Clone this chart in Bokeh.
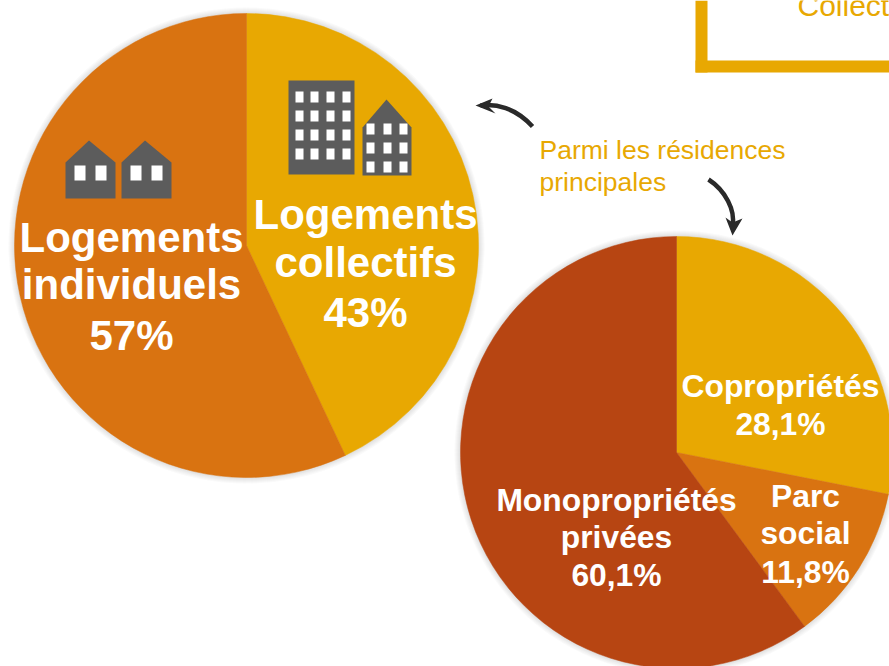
from math import pi
from bokeh.plotting import figure
from bokeh.models import Range1d
from bokeh.core.properties import value
from bokeh.embed import file_html
from bokeh.resources import INLINE

# data
main_labels = ["Logements collectifs", "Logements individuels"]
main_values = [43, 57]
main_colors = ["#E8A802", "#D97311"]
sub_labels = ["Copropriétés", "Parc social", "Monopropriétés privées"]
sub_values = [28.1, 11.8, 60.1]
sub_colors = ["#E8A802", "#D97311", "#B74512"]

W, H = 889, 666
p = figure(width=W, height=H, x_range=Range1d(0, W), y_range=Range1d(0, H),
           output_backend="svg", toolbar_location=None, min_border=0,
           outline_line_color=None, background_fill_color="white", border_fill_color="white")
p.axis.visible = False
p.grid.visible = False


def Y(y):
    return H - y


def pie(cx, cy, r, values, colors):
    for k in range(6, 0, -1):
        p.circle([cx], [Y(cy)], radius=r + k, radius_units="screen",
                 fill_color="#444444", fill_alpha=0.028, line_color=None)
    tot = sum(values)
    cum = 0.0
    for v, c in zip(values, colors):
        a0 = pi / 2 - cum / tot * 2 * pi
        cum += v
        a1 = pi / 2 - cum / tot * 2 * pi
        p.wedge([cx], [Y(cy)], radius=r, radius_units="screen", start_angle=a1, end_angle=a0,
                fill_color=c, line_color=c, line_width=0.5)


def label(x, y, t, size, color="white", style="bold", align="center"):
    px = float(size[:-2])
    p.text([x], [Y(y)], text=[t], text_font=value("Liberation Sans"), text_font_size=size,
           text_font_style=style, text_color=color, text_align=align, text_baseline="alphabetic",
           y_offset=-0.35 * px)


def poly(xs, ys, color="#5C5C5C"):
    p.patch(xs, [Y(y) for y in ys], fill_color=color, line_color=None)


def box(x0, x1, y0, y1, color="white"):
    poly([x0, x1, x1, x0], [y0, y0, y1, y1], color)


pie(246, 245, 232, main_values, main_colors)
pie(676, 452, 216, sub_values, sub_colors)

# houses
for dx in (0, 56):
    poly([65 + dx, 88.5 + dx, 115 + dx, 115 + dx, 65 + dx], [162, 140, 162, 198, 198])
    box(74 + dx, 85 + dx, 165, 180)
    box(95 + dx, 106 + dx, 165, 180)
# buildings
box(288, 354, 80, 174, "#5C5C5C")
for x0 in (295, 310, 326, 342):
    for y0 in (91, 110, 129, 148):
        box(x0, x0 + 8, y0, y0 + 11)
poly([362, 386, 411, 411, 362], [127, 99, 127, 175, 175])
for x0 in (366, 383, 399):
    for y0 in (123, 142, 161):
        box(x0, x0 + 8, y0, y0 + 11)

# main labels
for x, y, t in [(365, 229, "Logements"), (365, 277, "collectifs"), (365, 327, f"{main_values[0]}%"),
                (131, 252, "Logements"), (131, 299, "individuels"), (131, 350, f"{main_values[1]}%")]:
    label(x, y, t, "42px")
# sub labels
fmt = lambda v: f"{v:.1f}%".replace(".", ",")
for x, y, t in [(780, 397, "Copropriétés"), (780, 435, fmt(sub_values[0])),
                (805, 507, "Parc"), (805, 544, "social"), (805, 583, fmt(sub_values[1])),
                (616, 511, "Monopropriétés"), (616, 548, "privées"), (616, 586, fmt(sub_values[2]))]:
    label(x, y, t, "31.8px")

label(539, 159, "Parmi les résidences", "26.5px", "#E8A802", "normal", "left")
label(539, 191, "principales", "26.5px", "#E8A802", "normal", "left")

# frame
box(695, 707, 0, 72, "#E8A802")
box(695, 889, 60, 72, "#E8A802")
label(797, 15, "Collect", "30px", "#E8A802", "normal", "left")

# arrows
ink = "#2A2A2A"
p.bezier([532], [Y(126)], [480], [Y(105)], [515], [Y(107)], [495], [Y(103)], line_color=ink, line_width=4.5)
poly([475, 492, 488, 495], [105, 98, 106, 113], ink)
p.bezier([708], [Y(179)], [732], [Y(225)], [725], [Y(190)], [735], [Y(210)], line_color=ink, line_width=4.5)
poly([732, 725, 732, 742], [235, 217, 222, 218], ink)

open("out.html", "w").write(file_html(p, INLINE))
